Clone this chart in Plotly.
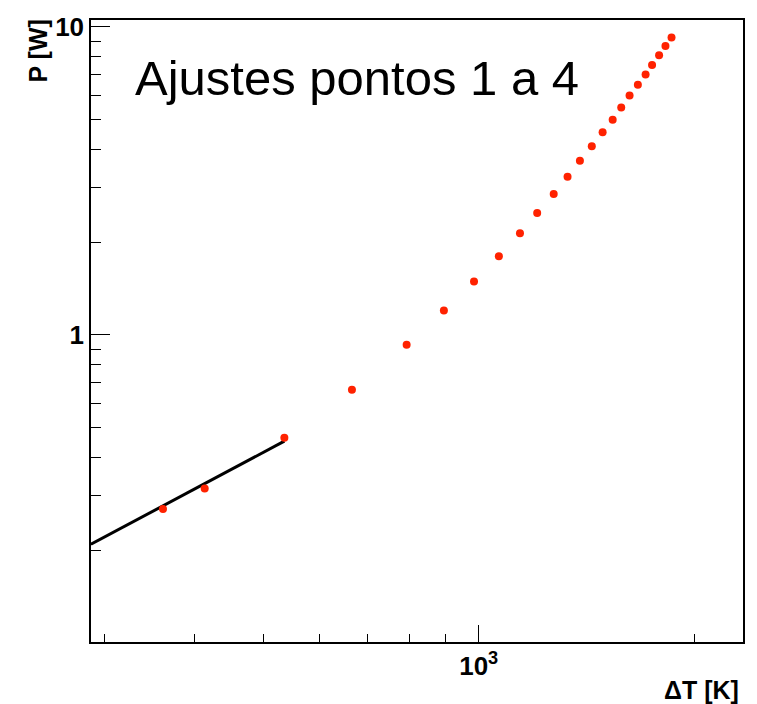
import numpy as np
import plotly.graph_objects as go

# Data (Delta T in K, P in W)
delta_t = [362, 414, 535, 665, 793, 894, 985, 1067, 1142, 1207, 1273, 1331,
           1385, 1439, 1490, 1539, 1582, 1625, 1669, 1711, 1747, 1787, 1824, 1860]
power = [0.272, 0.317, 0.464, 0.664, 0.929, 1.20, 1.49, 1.80, 2.14, 2.49, 2.87, 3.26,
         3.68, 4.10, 4.55, 5.00, 5.48, 5.99, 6.49, 7.01, 7.53, 8.09, 8.67, 9.24]

# Power-law fit P = A * dT^B over points 1..4
FIT_A = 10 ** -3.7216
FIT_B = 1.2376
FIT_X_RANGE = [287.1, 535]

x_major = [1000]
x_major_text = ["10<sup>3</sup>"]
x_minor = [300, 400, 500, 600, 700, 800, 900, 2000]
y_major = [1, 10]
y_major_text = ["1", "10"]
y_minor = [0.2, 0.3, 0.4, 0.5, 0.6, 0.7, 0.8, 0.9, 2, 3, 4, 5, 6, 7, 8, 9]

fit_x = np.geomspace(FIT_X_RANGE[0], FIT_X_RANGE[1], 50)
fit_y = FIT_A * fit_x ** FIT_B

fig = go.Figure()
fig.add_trace(go.Scatter(x=fit_x, y=fit_y, mode="lines",
                         line=dict(color="black", width=3), hoverinfo="skip"))
fig.add_trace(go.Scatter(x=delta_t, y=power, mode="markers",
                         marker=dict(color="#ff2200", size=8, line=dict(width=0))))

FONT = "Liberation Sans, Arial, Helvetica, sans-serif"

fig.update_layout(
    width=757, height=704,
    margin=dict(l=91, r=13, t=14, b=62),
    paper_bgcolor="white", plot_bgcolor="white",
    showlegend=False,
    font=dict(family=FONT, color="black"),
)
fig.update_xaxes(
    type="log", range=[2.4581, 3.3694],
    showgrid=False, zeroline=False,
    showline=True, linecolor="black", linewidth=1.5, mirror=True,
    tickmode="array", tickvals=x_major, ticktext=x_major_text,
    ticks="inside", ticklen=17, tickwidth=1, tickcolor="black",
    tickfont=dict(family=FONT, size=26, weight="bold", color="black"),
    minor=dict(tickmode="array", tickvals=x_minor, ticks="inside",
               ticklen=8, tickwidth=1, tickcolor="black", showgrid=False),
)
fig.update_yaxes(
    type="log", range=[-0.997, 1.0225],
    showgrid=False, zeroline=False,
    showline=True, linecolor="black", linewidth=1.5, mirror=True,
    tickmode="array", tickvals=y_major, ticktext=y_major_text,
    ticks="inside", ticklen=19, tickwidth=1, tickcolor="black",
    tickfont=dict(family=FONT, size=26, weight="bold", color="black"),
    minor=dict(tickmode="array", tickvals=y_minor, ticks="inside",
               ticklen=10, tickwidth=1, tickcolor="black", showgrid=False),
)

fig.add_annotation(text="Ajustes pontos 1 a 4", xref="paper", yref="paper",
                   x=0.0643, y=0.906, xanchor="left", yanchor="middle",
                   showarrow=False, font=dict(family=FONT, size=49, color="black"))
fig.add_annotation(text="\u0394T [K]", xref="paper", yref="paper",
                   x=0.9969, y=-0.077, xanchor="right", yanchor="middle",
                   showarrow=False, font=dict(family=FONT, size=25, weight="bold", color="black"))
fig.add_annotation(text="P [W]", xref="paper", yref="paper", textangle=-90,
                   x=-0.0827, y=1.0032, xanchor="center", yanchor="top",
                   showarrow=False, font=dict(family=FONT, size=25, weight="bold", color="black"))

fig.write_html("out.html")
